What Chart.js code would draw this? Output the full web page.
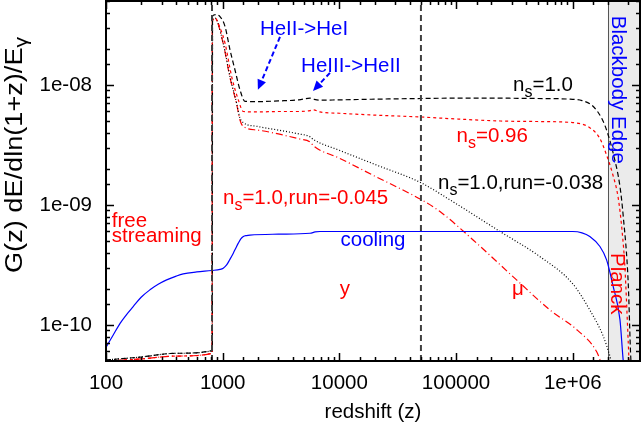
<!DOCTYPE html>
<html>
<head>
<meta charset="utf-8">
<script src="https://cdn.jsdelivr.net/npm/chart.js@4.4.0/dist/chart.umd.min.js"></script>
<style>
  html, body { margin: 0; padding: 0; background: #fff; }
</style>
</head>
<body>
<canvas id="heatingChart" width="641" height="435"></canvas>
<script>
// G(z) curves (redshift, value)
const nsOneZ = [100, 200, 400, 815, 818, 870, 948, 1048, 1155, 1275, 1406, 1552, 2000, 3000, 4500, 5600, 6000, 6800,
  1e4, 2e4, 5e4, 1e5, 2e5, 5e5, 9.5e5, 1.2e6, 1.5e6, 1.8e6, 2.0e6, 2.22e6, 2.54e6, 2.71e6, 2.99e6, 3.13e6, 3.2e6];
const nsOneG = [5.1e-11, 5.4e-11, 5.8e-11, 6.1e-11, 3.75e-8, 3.85e-8, 3.71e-8, 3.06e-8, 1.96e-8, 1.33e-8, 9.1e-9, 7.3e-9,
  7.25e-9, 7.35e-9, 7.5e-9, 7.75e-9, 7.6e-9, 7.45e-9, 7.5e-9, 7.6e-9, 7.7e-9, 7.75e-9, 7.75e-9, 7.7e-9, 7.6e-9, 7.4e-9,
  6.6e-9, 5.1e-9, 3.9e-9, 2.7e-9, 1.42e-9, 8.0e-10, 2.2e-10, 5.8e-11, 4e-11];

const ns096Z = [100, 200, 400, 812, 815, 859, 948, 1048, 1194, 1361, 1503, 2000, 3000, 4500, 5600, 6000, 6800, 1e4, 2e4,
  5e4, 1e5, 2.4e5, 5e5, 1e6, 1.4e6, 1.7e6, 1.95e6, 2.2e6, 2.45e6, 2.65e6, 2.8e6, 2.99e6, 3.05e6];
const ns096G = [5.0e-11, 5.2e-11, 5.5e-11, 5.8e-11, 3.4e-8, 3.6e-8, 3.0e-8, 2.22e-8, 1.17e-8, 7.5e-9, 6.0e-9, 5.95e-9,
  6.0e-9, 6.0e-9, 6.1e-9, 6.2e-9, 5.95e-9, 5.8e-9, 5.6e-9, 5.4e-9, 5.2e-9, 5.0e-9, 4.95e-9, 4.85e-9, 4.4e-9, 3.6e-9,
  2.6e-9, 1.8e-9, 1.15e-9, 6e-10, 3.0e-10, 7.1e-11, 4.5e-11];

const run038Z = [100, 200, 400, 815, 818, 859, 1011, 1155, 1318, 1406, 1503, 2000, 3000, 4500, 5600, 6000, 1e4, 2e4,
  5.07e4, 8.87e4, 2.38e5, 5.24e5, 1e6, 1.4e6, 1.83e6, 2.08e6, 2.2e6];
const run038G = [5.1e-11, 5.4e-11, 5.8e-11, 6.1e-11, 3.5e-8, 3.6e-8, 2.22e-8, 1.17e-8, 7.0e-9, 5.3e-9, 4.85e-9, 4.5e-9,
  4.2e-9, 3.9e-9, 3.7e-9, 3.5e-9, 2.85e-9, 2.18e-9, 1.52e-9, 1.1e-9, 6.0e-10, 3.7e-10, 2.2e-10, 1.33e-10, 8e-11,
  5.5e-11, 4.5e-11];

const run045Z = [100, 200, 400, 812, 815, 859, 1011, 1155, 1318, 1406, 1503, 2000, 3000, 4500, 5600, 6000, 1e4, 2e4,
  5.07e4, 7.28e4, 1.4e5, 3.3e5, 6.38e5, 1.1e6, 1.6e6, 1.8e6];
const run045G = [5.0e-11, 5.2e-11, 5.5e-11, 5.8e-11, 3.4e-8, 3.55e-8, 2.2e-8, 1.15e-8, 6.9e-9, 5.1e-9, 4.5e-9, 4.2e-9,
  3.9e-9, 3.55e-9, 3.35e-9, 3.1e-9, 2.45e-9, 1.74e-9, 1.1e-9, 8.8e-10, 5.1e-10, 2.37e-10, 1.33e-10, 9e-11, 6e-11, 4.5e-11];

const coolingZ = [100, 115, 132, 150, 171, 200, 238, 280, 331, 400, 459, 600, 805, 950, 1011, 1081, 1150, 1233, 1300,
  1361, 1430, 1503, 1600, 1714, 3000, 5600, 6200, 6820, 1e5, 5e5, 1e6, 1.2e6, 1.4e6, 1.71e6, 1.95e6, 2.22e6, 2.54e6,
  2.71e6, 2.8e6];
const coolingG = [6.5e-11, 8.2e-11, 1.03e-10, 1.22e-10, 1.42e-10, 1.7e-10, 1.96e-10, 2.18e-10, 2.37e-10, 2.55e-10,
  2.66e-10, 2.76e-10, 2.84e-10, 2.9e-10, 2.97e-10, 3.16e-10, 3.5e-10, 3.96e-10, 4.4e-10, 4.8e-10, 5.2e-10, 5.45e-10,
  5.55e-10, 5.6e-10, 5.7e-10, 5.8e-10, 5.95e-10, 6.0e-10, 6.0e-10, 6.0e-10, 6.0e-10, 5.85e-10, 5.45e-10, 4.5e-10,
  3.48e-10, 2.09e-10, 1.1e-10, 5e-11, 4e-11];

// vertical markers (recombination, y/mu transition) and blackbody edge band
const markerZ = [810, 5e4];
const bandStartZ = 2e6;

// axis ranges and tick labels
const xMin = 100, xMax = 3.77e6;
const yMin = 5e-11, yMax = 5e-8;
const xTickValues = [100, 1000, 1e4, 1e5, 1e6];
const xTickLabels = ["100", "1000", "10000", "100000", "1e+06"];
const yTickValues = [1e-10, 1e-9, 1e-8];
const yTickLabels = ["1e-10", "1e-09", "1e-08"];

// arrows: tail (z, G) -> head (z, G)
const arrowTailZ = [3097, 8300], arrowTailG = [2.51e-8, 1.26e-8];
const arrowHeadZ = [2004, 5940], arrowHeadG = [9.1e-9, 8.9e-9];

const FONT = "'Liberation Sans', Arial, sans-serif";

// text notes anchored on data coordinates
const notes = [
  { parts: [["HeII->HeI"]], z: 4980, g: 2.61e-8, color: "#0000ff", align: "center" },
  { parts: [["HeIII->HeII"]], z: 12560, g: 1.28e-8, color: "#0000ff", align: "center" },
  { parts: [["n"], ["s", 1], ["=1.0"]], z: 3.08e5, g: 8.96e-9, color: "#000000", align: "left" },
  { parts: [["n"], ["s", 1], ["=0.96"]], z: 1.01e5, g: 3.37e-9, color: "#ff0000", align: "left" },
  { parts: [["n"], ["s", 1], ["=1.0,run=-0.038"]], z: 7.0e4, g: 1.36e-9, color: "#000000", align: "left" },
  { parts: [["n"], ["s", 1], ["=1.0,run=-0.045"]], z: 1006, g: 1.02e-9, color: "#ff0000", align: "left" },
  { parts: [["free"]], z: 112, g: 6.56e-10, color: "#ff0000", align: "left" },
  { parts: [["streaming"]], z: 112, g: 4.92e-10, color: "#ff0000", align: "left" },
  { parts: [["cooling"]], z: 19400, g: 4.5e-10, color: "#0000ff", align: "center" },
  { parts: [["y"]], z: 11170, g: 1.78e-10, color: "#ff0000", align: "center" },
  { parts: [["\u03bc"]], z: 3.39e5, g: 1.78e-10, color: "#ff0000", align: "center" },
  { parts: [["Blackbody Edge"]], z: 2.42e6, g: 9.1e-9, color: "#0000ff", align: "center", rotate: true },
  { parts: [["Planck"]], z: 2.4e6, g: 2.2e-10, color: "#ff0000", align: "center", rotate: true },
];

function toPoints(zs, gs) {
  return zs.map((z, i) => ({ x: z, y: gs[i] }));
}

function isDecade(v) {
  const l = Math.log10(v);
  return Math.abs(l - Math.round(l)) < 1e-9;
}

function labelFor(values, labels, v) {
  const i = values.findIndex((t) => Math.abs(Math.log10(t) - Math.log10(v)) < 1e-9);
  return i >= 0 ? labels[i] : "";
}

// draw a run of text pieces, some of them subscripts
function drawRich(ctx, parts, x, y, align, size) {
  const sub = size * 0.78;
  const widths = parts.map(([t, s]) => {
    ctx.font = `${s ? sub : size}px ${FONT}`;
    return ctx.measureText(t).width;
  });
  const total = widths.reduce((a, b) => a + b, 0);
  let cx = align === "center" ? x - total / 2 : x;
  ctx.textAlign = "left";
  parts.forEach(([t, s], i) => {
    ctx.font = `${s ? sub : size}px ${FONT}`;
    ctx.fillText(t, cx, s ? y + 6 : y);
    cx += widths[i];
  });
}

function drawArrow(ctx, x1, y1, x2, y2) {
  const ang = Math.atan2(y2 - y1, x2 - x1);
  const headLen = 10, headW = 4.5;
  const bx = x2 - headLen * Math.cos(ang), by = y2 - headLen * Math.sin(ang);
  ctx.setLineDash([5, 3]);
  ctx.lineWidth = 2;
  ctx.beginPath();
  ctx.moveTo(x1, y1);
  ctx.lineTo(bx, by);
  ctx.stroke();
  ctx.setLineDash([]);
  ctx.beginPath();
  ctx.moveTo(x2, y2);
  ctx.lineTo(bx + headW * Math.sin(ang), by - headW * Math.cos(ang));
  ctx.lineTo(bx - headW * Math.sin(ang), by + headW * Math.cos(ang));
  ctx.closePath();
  ctx.fill();
}

const framePlugin = {
  id: "frame",
  beforeDatasetsDraw(chart) {
    const { ctx, chartArea: a, scales: { x } } = chart;
    const left = x.getPixelForValue(bandStartZ);
    ctx.save();
    ctx.fillStyle = "#ebebeb";
    ctx.fillRect(left, a.top, a.right - left, a.bottom - a.top);
    ctx.strokeStyle = "#555555";
    ctx.lineWidth = 1;
    ctx.beginPath();
    ctx.moveTo(Math.round(left) + 0.5, a.top);
    ctx.lineTo(Math.round(left) + 0.5, a.bottom);
    ctx.stroke();
    ctx.restore();
  },
  afterDatasetsDraw(chart) {
    const { ctx, chartArea: a, scales: { x, y } } = chart;
    ctx.save();

    // notes
    ctx.textBaseline = "alphabetic";
    notes.forEach((n) => {
      const px = x.getPixelForValue(n.z), py = y.getPixelForValue(n.g);
      ctx.fillStyle = n.color;
      if (n.rotate) {
        ctx.save();
        ctx.translate(px, py);
        ctx.rotate(Math.PI / 2);
        ctx.textBaseline = "middle";
        drawRich(ctx, n.parts, 0, 0, "center", 20.5);
        ctx.restore();
      } else {
        drawRich(ctx, n.parts, px, py, n.align, 20.5);
      }
    });

    // arrows
    ctx.strokeStyle = "#0000ff";
    ctx.fillStyle = "#0000ff";
    arrowTailZ.forEach((z, i) => {
      drawArrow(ctx, x.getPixelForValue(z), y.getPixelForValue(arrowTailG[i]),
        x.getPixelForValue(arrowHeadZ[i]), y.getPixelForValue(arrowHeadG[i]));
    });

    // inward ticks on all four sides
    ctx.strokeStyle = "#000";
    ctx.lineWidth = 1.5;
    ctx.beginPath();
    x.ticks.forEach((t) => {
      const p = Math.round(x.getPixelForValue(t.value)) + 0.5;
      if (p < a.left || p > a.right) return;
      const len = isDecade(t.value) ? 8 : 4;
      ctx.moveTo(p, a.bottom); ctx.lineTo(p, a.bottom - len);
      ctx.moveTo(p, a.top); ctx.lineTo(p, a.top + len);
    });
    y.ticks.forEach((t) => {
      const p = Math.round(y.getPixelForValue(t.value)) + 0.5;
      if (p < a.top || p > a.bottom) return;
      const len = isDecade(t.value) ? 8 : 4;
      ctx.moveTo(a.left, p); ctx.lineTo(a.left + len, p);
      ctx.moveTo(a.right, p); ctx.lineTo(a.right - len, p);
    });
    ctx.stroke();

    // frame
    ctx.lineWidth = 2;
    ctx.strokeRect(a.left, a.top, a.right - a.left, a.bottom - a.top);

    // y axis title with subscript gamma, stretched along its length like the original
    ctx.fillStyle = "#000";
    ctx.translate(16, 273);
    ctx.rotate(-Math.PI / 2);
    ctx.scale(1.18, 1);
    ctx.textBaseline = "middle";
    drawRich(ctx, [["G(z) dE/dln(1+z)/E"], ["\u03b3", 1]], 0, 0, "left", 23);
    ctx.restore();
  },
};

function makeLine(zs, gs, color, dash) {
  return {
    data: toPoints(zs, gs),
    showLine: true,
    borderColor: color,
    borderDash: dash,
    borderWidth: 1.2,
    pointRadius: 0,
    cubicInterpolationMode: "monotone",
  };
}

let heatingChart;

function initializeChart() {
  const ctx = document.getElementById("heatingChart").getContext("2d");
  const markers = markerZ.map((z) => ({
    data: [{ x: z, y: yMin }, { x: z, y: yMax }],
    showLine: true,
    borderColor: "#404040",
    borderDash: [6, 4],
    borderWidth: 2,
    pointRadius: 0,
  }));
  heatingChart = new Chart(ctx, {
    type: "scatter",
    data: {
      datasets: [
        ...markers,
        makeLine(coolingZ, coolingG, "#0000ff", []),
        makeLine(nsOneZ, nsOneG, "#000000", [5, 3]),
        makeLine(ns096Z, ns096G, "#ff0000", [3, 3]),
        makeLine(run038Z, run038G, "#000000", [1, 2]),
        makeLine(run045Z, run045G, "#ff0000", [7, 3, 1, 3]),
      ],
    },
    options: {
      responsive: false,
      animation: false,
      layout: { padding: { top: 1, right: 1, left: 0, bottom: 0 } },
      plugins: { legend: { display: false }, tooltip: { enabled: false } },
      scales: {
        x: {
          type: "logarithmic",
          min: xMin,
          max: xMax,
          grid: { display: false, drawTicks: false },
          border: { display: false },
          ticks: {
            autoSkip: false,
            maxRotation: 0,
            padding: 10,
            color: "#000",
            font: { family: FONT, size: 20.5 },
            callback: (v) => labelFor(xTickValues, xTickLabels, v),
          },
          title: {
            display: true,
            text: "redshift (z)",
            color: "#000",
            font: { family: FONT, size: 20.5 },
            padding: { top: 0, bottom: 10 },
          },
          afterFit: (s) => {
            s.height = 74;
            s.paddingLeft = 0;
            s.paddingRight = 0;
          },
        },
        y: {
          type: "logarithmic",
          min: yMin,
          max: yMax,
          grid: { display: false, drawTicks: false },
          border: { display: false },
          ticks: {
            autoSkip: false,
            padding: 14,
            color: "#000",
            font: { family: FONT, size: 20.5 },
            callback: (v) => labelFor(yTickValues, yTickLabels, v),
          },
          afterFit: (s) => {
            s.width = 106;
            s.paddingTop = 0;
            s.paddingBottom = 0;
          },
        },
      },
    },
    plugins: [framePlugin],
  });
}

initializeChart();
</script>
</body>
</html>
